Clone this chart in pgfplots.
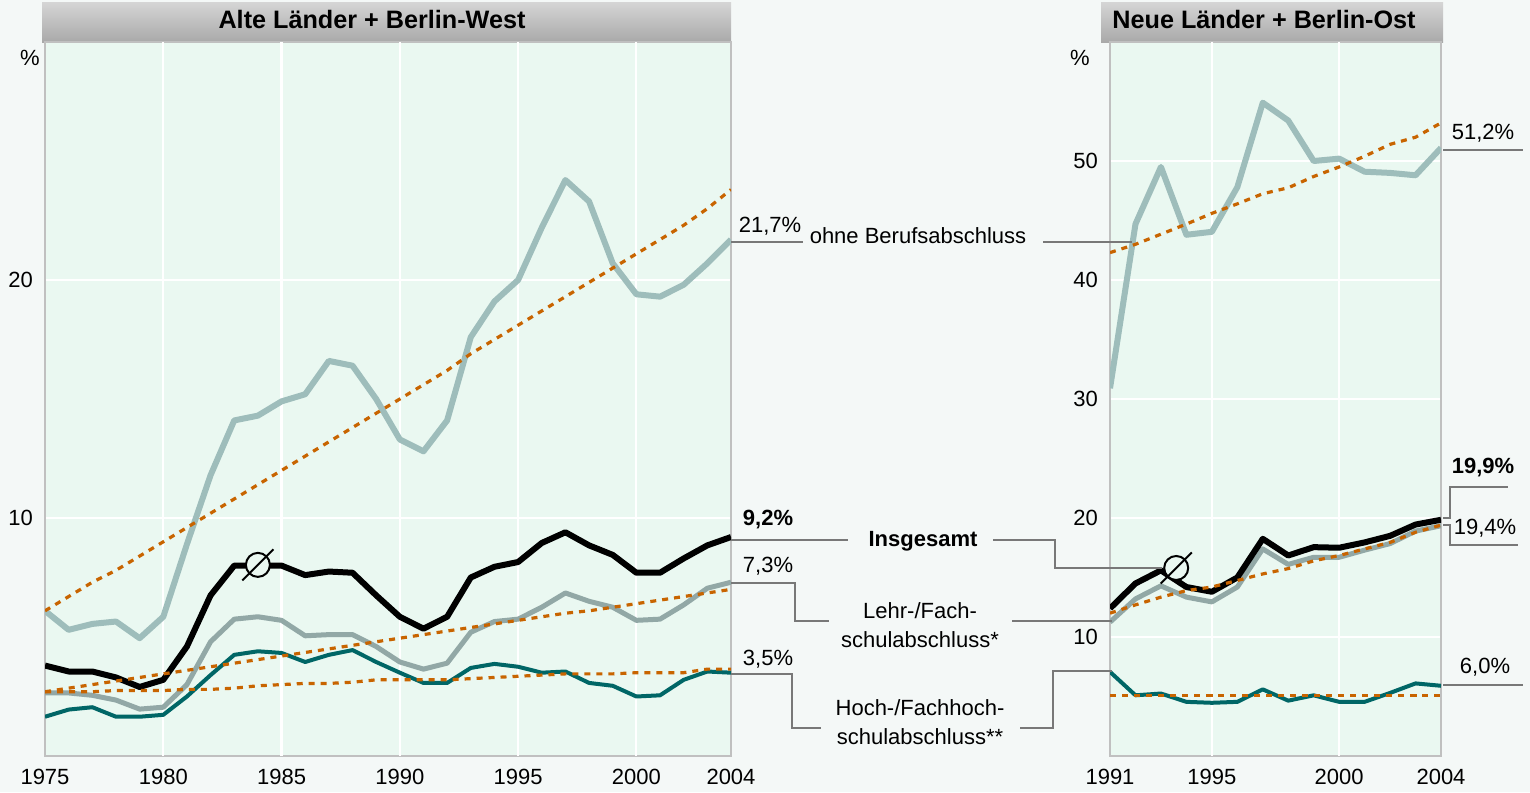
\documentclass[border=0pt]{standalone}
\usepackage{fontspec}
\setmainfont{Liberation Sans}
\usepackage{pgfplots}
\pgfplotsset{compat=1.18}

\definecolor{pagebg}{RGB}{244,248,247}
\definecolor{plotbg}{RGB}{234,248,241}
\definecolor{ohnec}{RGB}{158,189,187}
\definecolor{lehrc}{RGB}{146,168,166}
\definecolor{hochc}{RGB}{0,102,102}
\definecolor{trendc}{RGB}{200,100,0}
\definecolor{framec}{RGB}{192,192,192}
\definecolor{leaderc}{RGB}{120,120,120}

\pgfdeclareplotmark{avgmark}{%
  \pgfpathcircle{\pgfpoint{0pt}{0pt}}{\pgfplotmarksize}%
  \pgfusepathqfillstroke
  \pgfpathmoveto{\pgfpoint{-1.3\pgfplotmarksize}{-1.3\pgfplotmarksize}}%
  \pgfpathlineto{\pgfpoint{1.3\pgfplotmarksize}{1.3\pgfplotmarksize}}%
  \pgfusepathqstroke}

\pgfplotsset{
  panel/.style={
    scale only axis, anchor=south west,
    axis background/.style={fill=plotbg},
    axis line style={draw=framec, line width=1pt},
    major tick length=0pt,
    grid style={white, line width=1.1pt},
    ymajorgrids,
    tick label style={font=\fontsize{11}{13}\selectfont},
    /pgf/number format/assume math mode=true,
    /pgf/number format/1000 sep={},
    yticklabel style={xshift=-2.5pt},
    xticklabel style={yshift=-3pt},
    extra x tick labels={},
    extra x tick style={grid=major},
  },
  ohne/.style={ohnec, line width=3pt, line join=round},
  lehr/.style={lehrc, line width=2.5pt, line join=round},
  hoch/.style={hochc, line width=2pt, line join=round},
  ins/.style={black, line width=3pt, line join=round},
  trend/.style={trendc, line width=1.6pt, dash pattern=on 3pt off 3pt},
  avg/.style={only marks, mark=avgmark, mark size=6pt,
    mark options={draw=black, fill=plotbg, line width=1pt}},
}

\begin{document}
\begin{tikzpicture}
\path[use as bounding box, fill=pagebg] (0,0) rectangle (765pt,396pt);

% headers
\shade[top color={rgb,255:red,212;green,212;blue,212}, middle color={rgb,255:red,246;green,246;blue,246}, bottom color={rgb,255:red,168;green,168;blue,168}] (21pt,374.5pt) rectangle (365.5pt,394.5pt);
\node[font=\fontsize{12.6}{15}\selectfont\bfseries] at (186pt,386pt) {Alte Länder + Berlin-West};
\shade[top color={rgb,255:red,212;green,212;blue,212}, middle color={rgb,255:red,246;green,246;blue,246}, bottom color={rgb,255:red,168;green,168;blue,168}] (550.5pt,374.5pt) rectangle (721.5pt,394.5pt);
\node[font=\fontsize{12.6}{15}\selectfont\bfseries, anchor=west, inner sep=0pt] at (556pt,386pt) {Neue Länder + Berlin-Ost};

% left panel
\begin{axis}[panel, at={(22.5pt,18pt)}, width=343pt, height=357pt,
  xmin=1975, xmax=2004, ymin=0, ymax=30,
  xtick={1975,1980,1985,1990,1995,2000,2004},
  extra x ticks={1980,1985,1990,1995,2000},
  ytick={10,20}]
\addplot[ohne] coordinates {(1975,6.1)(1976,5.3)(1977,5.55)(1978,5.65)(1979,4.95)(1980,5.85)(1981,8.9)(1982,11.8)(1983,14.1)(1984,14.3)(1985,14.9)(1986,15.2)(1987,16.6)(1988,16.4)(1989,15.0)(1990,13.3)(1991,12.8)(1992,14.1)(1993,17.6)(1994,19.1)(1995,20.0)(1996,22.2)(1997,24.2)(1998,23.3)(1999,20.7)(2000,19.4)(2001,19.3)(2002,19.8)(2003,20.7)(2004,21.7)};
\addplot[lehr] coordinates {(1975,2.65)(1976,2.65)(1977,2.55)(1978,2.35)(1979,1.97)(1980,2.05)(1981,3.0)(1982,4.8)(1983,5.75)(1984,5.85)(1985,5.7)(1986,5.05)(1987,5.1)(1988,5.1)(1989,4.6)(1990,3.95)(1991,3.65)(1992,3.9)(1993,5.2)(1994,5.65)(1995,5.75)(1996,6.25)(1997,6.85)(1998,6.5)(1999,6.25)(2000,5.7)(2001,5.75)(2002,6.35)(2003,7.05)(2004,7.3)};
\addplot[hoch] coordinates {(1975,1.65)(1976,1.95)(1977,2.05)(1978,1.65)(1979,1.65)(1980,1.73)(1981,2.5)(1982,3.4)(1983,4.25)(1984,4.4)(1985,4.33)(1986,3.95)(1987,4.25)(1988,4.45)(1989,3.95)(1990,3.5)(1991,3.07)(1992,3.07)(1993,3.7)(1994,3.87)(1995,3.75)(1996,3.5)(1997,3.55)(1998,3.07)(1999,2.95)(2000,2.5)(2001,2.55)(2002,3.2)(2003,3.55)(2004,3.5)};
\addplot[ins] coordinates {(1975,3.8)(1976,3.55)(1977,3.55)(1978,3.3)(1979,2.9)(1980,3.2)(1981,4.6)(1982,6.75)(1983,8.0)(1984,8.0)(1985,8.0)(1986,7.6)(1987,7.75)(1988,7.7)(1989,6.75)(1990,5.85)(1991,5.35)(1992,5.85)(1993,7.5)(1994,7.95)(1995,8.15)(1996,8.95)(1997,9.4)(1998,8.85)(1999,8.45)(2000,7.7)(2001,7.7)(2002,8.3)(2003,8.85)(2004,9.2)};
\addplot[trend] coordinates {(1975,6.1)(1976,6.7)(1977,7.3)(1978,7.8)(1979,8.4)(1980,9.0)(1981,9.6)(1982,10.2)(1983,10.8)(1984,11.4)(1985,12.0)(1986,12.6)(1987,13.2)(1988,13.8)(1989,14.4)(1990,15.0)(1991,15.6)(1992,16.2)(1993,16.9)(1994,17.5)(1995,18.1)(1996,18.7)(1997,19.3)(1998,19.9)(1999,20.5)(2000,21.1)(2001,21.7)(2002,22.3)(2003,23.0)(2004,23.8)};
\addplot[trend] coordinates {(1975,2.7)(1976,2.85)(1977,3.0)(1978,3.15)(1979,3.3)(1980,3.45)(1981,3.6)(1982,3.75)(1983,3.9)(1984,4.05)(1985,4.2)(1986,4.35)(1987,4.5)(1988,4.65)(1989,4.8)(1990,4.95)(1991,5.1)(1992,5.25)(1993,5.4)(1994,5.55)(1995,5.7)(1996,5.85)(1997,6.0)(1998,6.1)(1999,6.25)(2000,6.4)(2001,6.55)(2002,6.7)(2003,6.85)(2004,7.0)};
\addplot[trend] coordinates {(1975,2.7)(1976,2.7)(1977,2.7)(1978,2.75)(1979,2.75)(1980,2.75)(1981,2.8)(1982,2.8)(1983,2.85)(1984,2.95)(1985,3.0)(1986,3.05)(1987,3.05)(1988,3.1)(1989,3.2)(1990,3.2)(1991,3.2)(1992,3.2)(1993,3.25)(1994,3.3)(1995,3.35)(1996,3.4)(1997,3.45)(1998,3.45)(1999,3.45)(2000,3.5)(2001,3.5)(2002,3.5)(2003,3.65)(2004,3.65)};
\addplot[avg] coordinates {(1984,8.03)};
\end{axis}

% right panel
\begin{axis}[panel, at={(555pt,18pt)}, width=165.5pt, height=357pt,
  xmin=1991, xmax=2004, ymin=0, ymax=60,
  xtick={1991,1995,2000,2004},
  extra x ticks={1995,2000},
  ytick={10,20,30,40,50}]
\addplot[ohne] coordinates {(1991,30.9)(1992,44.7)(1993,49.5)(1994,43.8)(1995,44.05)(1996,47.8)(1997,54.9)(1998,53.4)(1999,50.0)(2000,50.2)(2001,49.1)(2002,49.0)(2003,48.8)(2004,51.1)};
\addplot[lehr] coordinates {(1991,11.25)(1992,13.2)(1993,14.3)(1994,13.35)(1995,12.95)(1996,14.2)(1997,17.4)(1998,16.1)(1999,16.7)(2000,16.7)(2001,17.3)(2002,17.85)(2003,18.9)(2004,19.35)};
\addplot[hoch] coordinates {(1991,7.07)(1992,5.1)(1993,5.25)(1994,4.55)(1995,4.47)(1996,4.55)(1997,5.6)(1998,4.65)(1999,5.1)(2000,4.55)(2001,4.55)(2002,5.3)(2003,6.1)(2004,5.9)};
\addplot[ins] coordinates {(1991,12.4)(1992,14.5)(1993,15.6)(1994,14.2)(1995,13.8)(1996,15.0)(1997,18.25)(1998,16.85)(1999,17.55)(2000,17.5)(2001,17.95)(2002,18.5)(2003,19.45)(2004,19.85)};
\addplot[trend] coordinates {(1991,42.3)(1992,43.0)(1993,43.85)(1994,44.7)(1995,45.6)(1996,46.4)(1997,47.25)(1998,47.75)(1999,48.7)(2000,49.5)(2001,50.4)(2002,51.4)(2003,52.0)(2004,53.2)};
\addplot[trend] coordinates {(1991,12.0)(1992,12.7)(1993,13.35)(1994,13.9)(1995,14.2)(1996,14.75)(1997,15.3)(1998,15.75)(1999,16.4)(2000,16.85)(2001,17.4)(2002,17.95)(2003,18.8)(2004,19.4)};
\addplot[trend] coordinates {(1991,5.1)(1992,5.1)(1993,5.1)(1994,5.1)(1995,5.1)(1996,5.1)(1997,5.1)(1998,5.1)(1999,5.1)(2000,5.1)(2001,5.1)(2002,5.1)(2003,5.1)(2004,5.1)};
\addplot[avg] coordinates {(1993.6,15.8)};
\end{axis}

% annotations in pixel coordinates
\begin{scope}[x=0.5pt, y=-0.5pt, yshift=396pt, font=\fontsize{11}{13}\selectfont]
\node at (30,58) {\%};
\node at (1080,58) {\%};
\draw[leaderc, line width=0.6pt] (731,242) -- (803,242);
\draw[leaderc, line width=0.6pt] (1043,242) -- (1132,242);
\node at (770,226) {21,7\%};
\node at (918,236) {ohne Berufsabschluss};
\draw[leaderc, line width=0.6pt] (731,540) -- (848,540);
\draw[leaderc, line width=0.6pt] (993,540) -- (1055,540) -- (1055,568) -- (1162,568);
\node[font=\fontsize{11}{13}\selectfont\bfseries] at (768,520) {9,2\%};
\node[font=\fontsize{11}{13}\selectfont\bfseries] at (923,541) {Insgesamt};
\draw[leaderc, line width=0.6pt] (731,583) -- (795,583) -- (795,621) -- (829,621);
\draw[leaderc, line width=0.6pt] (1012,621) -- (1112,621);
\node at (768,566) {7,3\%};
\node at (920,611) {Lehr-/Fach-};
\node at (920,640) {schulabschluss*};
\draw[leaderc, line width=0.6pt] (731,674) -- (792,674) -- (792,728) -- (821,728);
\draw[leaderc, line width=0.6pt] (1020,728) -- (1053,728) -- (1053,671) -- (1112,671);
\node at (768,659) {3,5\%};
\node at (920,708) {Hoch-/Fachhoch-};
\node at (920,737) {schulabschluss**};
\draw[leaderc, line width=0.6pt] (1443,150) -- (1523,150);
\node at (1483,133) {51,2\%};
\draw[leaderc, line width=0.6pt] (1443,518) -- (1450,518) -- (1450,487) -- (1508,487);
\node[font=\fontsize{11}{13}\selectfont\bfseries] at (1483,468) {19,9\%};
\draw[leaderc, line width=0.6pt] (1443,525) -- (1450,525) -- (1450,545) -- (1518,545);
\node at (1485,528) {19,4\%};
\draw[leaderc, line width=0.6pt] (1443,685) -- (1523,685);
\node at (1485,667) {6,0\%};
\end{scope}
\end{tikzpicture}
\end{document}
